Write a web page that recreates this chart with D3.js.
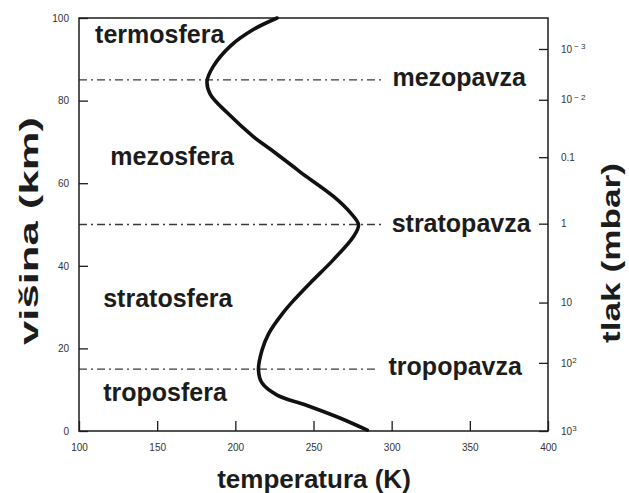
<!DOCTYPE html>
<html>
<head>
<meta charset="utf-8">
<script src="https://cdn.jsdelivr.net/npm/d3@7"></script>
<style>
  html, body { margin: 0; padding: 0; background: #fff; }
  svg { display: block; }
</style>
</head>
<body>
<svg id="chart" width="629" height="493"></svg>
<script>
// ---- data ----
const altitudeKm  = [0.2, 3.2, 6.3, 8.7, 11.6, 14.8, 19.6, 23.7, 28.6, 31.7, 35.8, 41.5, 47.1, 49.9, 52.8, 56.8, 62.5, 64.1, 68.1, 71.3, 77.1, 81.5, 84.7, 88.3, 93.2, 97.2, 100];
const temperatureK = [284.4, 266.5, 245, 226.7, 217.1, 214.8, 217.1, 221.5, 230.5, 237.5, 247.8, 262.8, 275.6, 278.8, 273.7, 262.8, 242.2, 236.8, 222.9, 211.5, 194.7, 184, 181.9, 185.9, 196.8, 211.5, 226.7];

const tempTicks = [100, 150, 200, 250, 300, 350, 400];
const altTicks = [0, 20, 40, 60, 80, 100];

const pressureLabels = ["10^-3", "10^-2", "0.1", "1", "10", "10^2", "10^3"];
const pressureAltKm  = [92.5, 80.2, 66.3, 50.2, 31.1, 16.5, 0];

const layerNames = ["termosfera", "mezosfera", "stratosfera", "troposfera"];
const pauseNames = ["mezopavza", "stratopavza", "tropopavza"];
const pauseAltKm = [85, 50, 15];

// ---- layout ----
const svg = d3.select("#chart");
const X0 = 79, X1 = 548, Y0 = 431, Y1 = 18;
const x = d3.scaleLinear().domain([100, 400]).range([X0, X1]);
const y = d3.scaleLinear().domain([0, 100]).range([Y0, Y1]);
const ink = "#1c1c1c";
const font = "'Liberation Sans', Arial, Helvetica, sans-serif";

// dashed pause lines
const pauseEnds = [385, 384, 379];
svg.append("g").selectAll("line").data(pauseAltKm).join("line")
  .attr("x1", X0).attr("x2", (d, i) => pauseEnds[i])
  .attr("y1", d => y(d)).attr("y2", d => y(d))
  .attr("stroke", "#3a3a3a").attr("stroke-width", 1.3)
  .attr("stroke-dasharray", "8,4,2,4");

// frame
svg.append("rect").attr("x", X0).attr("y", Y1).attr("width", X1 - X0).attr("height", Y0 - Y1)
  .attr("fill", "none").attr("stroke", ink).attr("stroke-width", 1.5);

// axes
const styleAxis = g => {
  g.select(".domain").remove();
  g.selectAll(".tick line").attr("stroke", ink).attr("stroke-width", 1.3);
  g.selectAll(".tick text").attr("fill", "#333").attr("font-family", font).attr("font-size", 10);
};
svg.append("g").attr("transform", `translate(0,${Y0})`)
  .call(d3.axisBottom(x).tickValues(tempTicks).tickSize(-10).tickPadding(13).tickFormat(d3.format("d")))
  .call(styleAxis);
svg.append("g").attr("transform", `translate(${X0},0)`)
  .call(d3.axisLeft(y).tickValues(altTicks).tickSize(-9).tickPadding(10).tickFormat(d3.format("d")))
  .call(styleAxis);
const rightAxis = svg.append("g").attr("transform", `translate(${X1},0)`)
  .call(d3.axisRight(y).tickValues(pressureAltKm).tickSize(-9).tickPadding(13).tickFormat(""))
  .call(styleAxis);
rightAxis.selectAll(".tick text").each(function(d) {
  const i = pressureAltKm.indexOf(d);
  const lab = pressureLabels[i];
  const t = d3.select(this);
  t.text(null);
  if (lab.includes("^")) {
    const [b, e] = lab.split("^");
    t.append("tspan").text(b);
    t.append("tspan").attr("dy", "-0.45em").attr("font-size", 8).attr("dx", e.startsWith("-") ? 2 : 0)
      .text(e.replace("-", "\u2212 "));
  } else t.text(lab);
});

// temperature profile
const pts = altitudeKm.map((a, i) => [temperatureK[i], a]);
svg.append("path").datum(pts)
  .attr("fill", "none").attr("stroke", "#111").attr("stroke-width", 3.6)
  .attr("stroke-linecap", "round")
  .attr("d", d3.line().x(d => x(d[0])).y(d => y(d[1])).curve(d3.curveCatmullRom.alpha(0.5)));

// layer labels
const layerPos = [[110.3, 93.9], [120, 64.5], [115.5, 30], [115.5, 7.2]];
svg.append("g").selectAll("text").data(layerNames).join("text")
  .attr("x", (d, i) => x(layerPos[i][0])).attr("y", (d, i) => y(layerPos[i][1]))
  .attr("font-family", font).attr("font-weight", "bold").attr("font-size", 25).attr("fill", ink)
  .text(d => d);

// pause labels
const pauseLabelT = [300.5, 300, 298];
const pauseLabelDy = [-1.5, -1.7, -1.4];
svg.append("g").selectAll("text").data(pauseNames).join("text")
  .attr("x", (d, i) => x(pauseLabelT[i])).attr("y", (d, i) => y(pauseAltKm[i] + pauseLabelDy[i]))
  .attr("font-family", font).attr("font-weight", "bold").attr("font-size", 25).attr("fill", ink)
  .text(d => d);

// axis titles
svg.append("text").attr("x", 314).attr("y", 488).attr("text-anchor", "middle")
  .attr("font-family", font).attr("font-weight", "bold").attr("font-size", 26).attr("fill", ink)
  .text("temperatura (K)");
svg.append("text").attr("transform", "translate(38,231) rotate(-90)").attr("text-anchor", "middle")
  .attr("font-family", font).attr("font-weight", "bold").attr("font-size", 26).attr("fill", ink)
  .attr("textLength", 228).attr("lengthAdjust", "spacingAndGlyphs")
  .text("višina (km)");
svg.append("text").attr("transform", "translate(620,253) rotate(-90)").attr("text-anchor", "middle")
  .attr("font-family", font).attr("font-weight", "bold").attr("font-size", 25).attr("fill", ink)
  .attr("textLength", 180).attr("lengthAdjust", "spacingAndGlyphs")
  .text("tlak (mbar)");
</script>
</body>
</html>
